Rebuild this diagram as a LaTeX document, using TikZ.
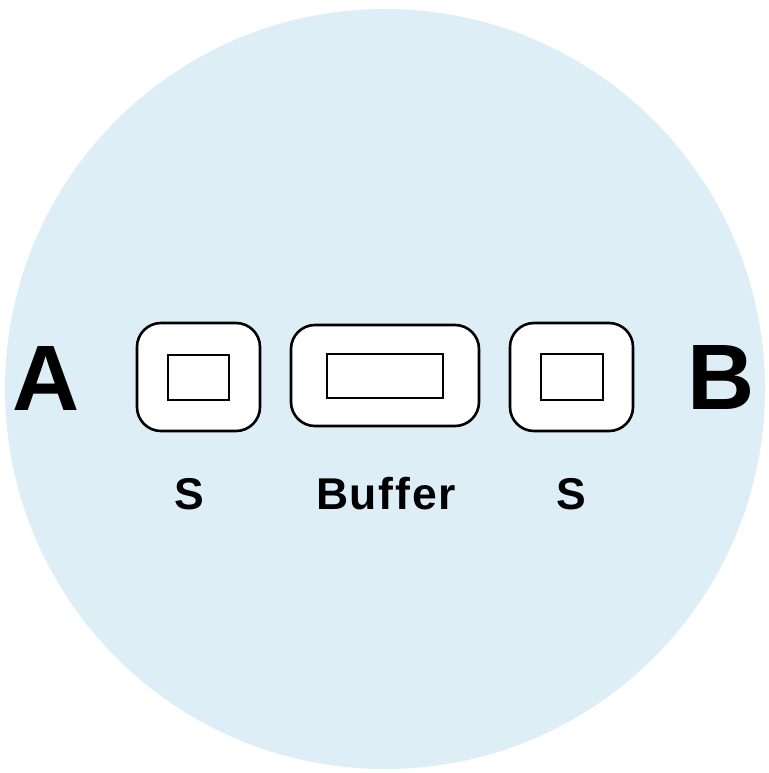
\documentclass[tikz,border=0pt]{standalone}
\usepackage{fontspec}
\setmainfont{Liberation Sans}
\begin{document}
\begin{tikzpicture}[x=1pt,y=-1pt,
  outerbox/.style={draw=black,line width=2.6pt,fill=white,rounded corners=24pt},
  innerbox/.style={draw=black,line width=2.6pt,fill=white},
  biglabel/.style={inner sep=0pt,anchor=base,font=\fontsize{93}{93}\selectfont\bfseries},
  smalllabel/.style={inner sep=0pt,anchor=base,font=\fontsize{44.5}{44.5}\selectfont\bfseries\addfontfeature{LetterSpace=4}}]
\useasboundingbox (0,0) rectangle (768,773);
\fill[fill={rgb,255:red,221;green,238;blue,247}] (385,389) circle (380);
% boxes
\draw[outerbox] (137,323) rectangle (260,431);
\draw[innerbox] (168,355) rectangle (229,400);
\draw[outerbox] (291,325) rectangle (479,426);
\draw[innerbox] (327,354) rectangle (443,398);
\draw[outerbox] (510,323) rectangle (633,431);
\draw[innerbox] (541,354) rectangle (603,400);
% labels
\node[biglabel] (A) at (46,410) {A};
\node[biglabel] (B) at (721,409) {B};
\node[smalllabel] (s1) at (189,509) {S};
\node[smalllabel] (buf) at (386,509) {Buffer};
\node[smalllabel] (s2) at (571,509) {S};
\end{tikzpicture}
\end{document}
